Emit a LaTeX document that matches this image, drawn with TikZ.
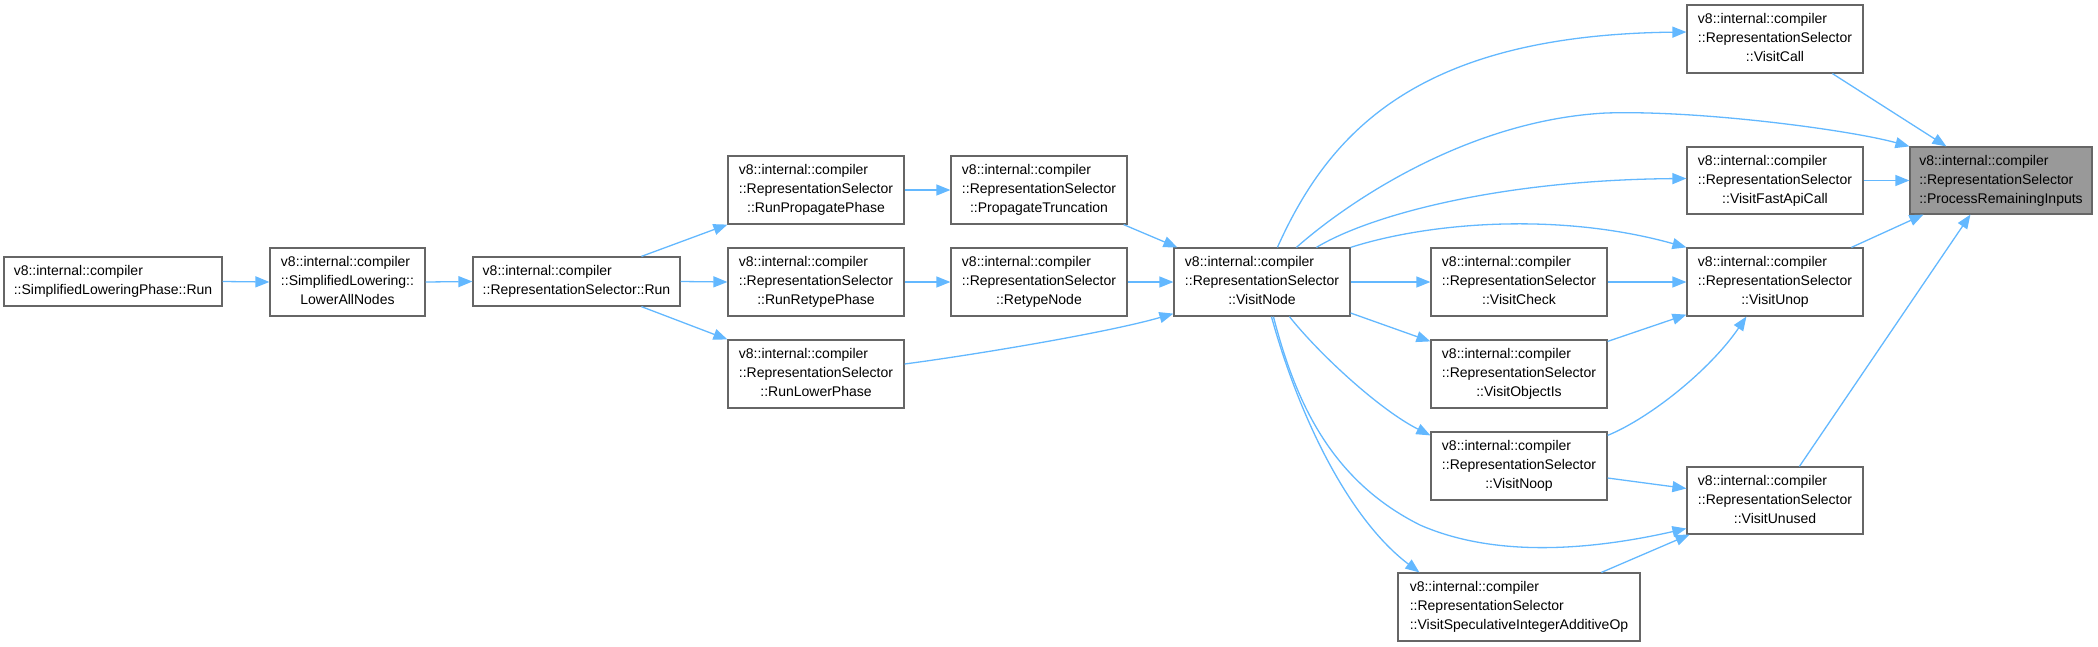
\documentclass[tikz,border=0pt]{standalone}
\usepackage{fontspec}
\setmainfont{Liberation Sans}
\usetikzlibrary{arrows.meta}
\definecolor{edgec}{HTML}{63B8FF}
\definecolor{boxc}{HTML}{666666}
\definecolor{hilite}{HTML}{999999}
\newcommand\lblthree[3]{\begin{tabular}{@{}l@{}}#1\\#2\\\multicolumn{1}{@{}c@{}}{#3}\end{tabular}}
\newcommand\lbltwo[2]{\begin{tabular}{@{}l@{}}#1\\#2\end{tabular}}
\newcommand\rsl[1]{\lblthree{v8::internal::compiler}{::RepresentationSelector}{#1}}
\tikzset{
  box/.style={draw=boxc, line width=1.2pt, fill=white, rectangle, inner sep=0pt,
    font=\fontsize{14pt}{19pt}\selectfont, text=black},
  wh/.style 2 args={minimum width=#1 pt, minimum height=#2 pt},
  edge/.style={draw=edgec, line width=1.3pt, -{Triangle[length=14pt,width=11pt]}},
}
\begin{document}
\begin{tikzpicture}[x=1pt,y=-1pt]
\useasboundingbox (0,0) rectangle (2098,646);
% nodes
\node[box, wh={218}{49}] (slp) at (113,281.5) {\lbltwo{v8::internal::compiler}{::SimplifiedLoweringPhase::Run}};
\node[box, wh={155}{68}] (lan) at (347.5,282) {\lblthree{v8::internal::compiler}{::SimplifiedLowering::}{LowerAllNodes}};
\node[box, wh={207}{49}] (rsr) at (576.5,281.5) {\lbltwo{v8::internal::compiler}{::RepresentationSelector::Run}};
\node[box, wh={176}{68}] (rpp) at (816,190) {\rsl{::RunPropagatePhase}};
\node[box, wh={176}{68}] (ptr) at (1039,190) {\rsl{::PropagateTruncation}};
\node[box, wh={176}{68}] (rrp) at (816,282) {\rsl{::RunRetypePhase}};
\node[box, wh={176}{68}] (rtn) at (1039,282) {\rsl{::RetypeNode}};
\node[box, wh={176}{68}] (rlp) at (816,374) {\rsl{::RunLowerPhase}};
\node[box, wh={176}{68}] (vnd) at (1262,282) {\rsl{::VisitNode}};
\node[box, wh={176}{68}] (vcl) at (1775,39) {\rsl{::VisitCall}};
\node[box, wh={182}{67}, fill=hilite] (pri) at (2001,180.5) {\rsl{::ProcessRemainingInputs}};
\node[box, wh={176}{67}] (vfa) at (1775,180.5) {\rsl{::VisitFastApiCall}};
\node[box, wh={176}{68}] (vck) at (1519,282) {\rsl{::VisitCheck}};
\node[box, wh={176}{68}] (vun) at (1775,282) {\rsl{::VisitUnop}};
\node[box, wh={176}{68}] (voi) at (1519,374) {\rsl{::VisitObjectIs}};
\node[box, wh={176}{68}] (vno) at (1519,466) {\rsl{::VisitNoop}};
\node[box, wh={176}{67}] (vus) at (1775,500.5) {\rsl{::VisitUnused}};
\node[box, wh={242}{68}] (vsi) at (1519,607) {\rsl{::VisitSpeculativeIntegerAdditiveOp}};
% edges
\draw[edge] (slp.east) -- (lan.west);
\draw[edge] (lan.east) -- (rsr.west);
\draw[edge] ([xshift=169pt]rsr.north west) -- (rpp.south west);
\draw[edge] (rsr.east) -- (rrp.west);
\draw[edge] ([xshift=169pt]rsr.south west) -- (rlp.north west);
\draw[edge] (rpp.east) -- (ptr.west);
\draw[edge] (rrp.east) -- (rtn.west);
\draw[edge] ([xshift=-4pt]ptr.south east) -- ([xshift=4pt]vnd.north west);
\draw[edge] (rtn.east) -- (vnd.west);
\draw[edge] ([yshift=10pt]rlp.east) .. controls (980,354) and (1110,332) .. ([yshift=3pt]vnd.south west);
% from VisitNode
\draw[edge] ([xshift=104pt]vnd.north west) .. controls (1330,130) and (1420,35) .. ([yshift=7pt]vcl.west);
\draw[edge] ([xshift=123pt]vnd.north west) .. controls (1350,200) and (1470,120) .. (1606,113) .. controls (1700,110) and (1850,130) .. (pri.north west);
\draw[edge] ([xshift=143pt]vnd.north west) .. controls (1370,215) and (1500,180) .. ([yshift=2pt]vfa.west);
\draw[edge] (vnd.north east) .. controls (1430,222) and (1560,212) .. (vun.north west);
\draw[edge] (vnd.east) -- (vck.west);
\draw[edge] ([yshift=-31pt]vnd.east) -- ([yshift=-2pt]voi.north west);
\draw[edge] ([xshift=116pt]vnd.south west) .. controls (1320,355) and (1380,410) .. ([yshift=-4pt]vno.north west);
\draw[edge] ([xshift=100pt]vnd.south west) .. controls (1295,400) and (1330,480) .. (1420,525) .. controls (1500,560) and (1600,548) .. ([yshift=-28pt]vus.west);
\draw[edge] ([xshift=98pt]vnd.south west) .. controls (1300,420) and (1350,520) .. ([xshift=22pt]vsi.north west);
% into ProcessRemainingInputs
\draw[edge] ([xshift=146pt]vcl.south west) -- ([xshift=37pt]pri.north west);
\draw[edge] (vfa.east) -- (pri.west);
\draw[edge] ([xshift=165pt]vun.north west) -- ([xshift=14pt]pri.south west);
\draw[edge] ([xshift=113pt]vus.north west) -- ([xshift=61pt]pri.south west);
% into VisitUnop / VisitUnused
\draw[edge] (vck.east) -- (vun.west);
\draw[edge] ([yshift=-2pt]voi.north east) -- ([yshift=2pt]vun.south west);
\draw[edge] ([yshift=-4pt]vno.north east) .. controls (1650,418) and (1710,370) .. ([xshift=60pt]vun.south west);
\draw[edge] ([yshift=-12pt]vno.east) -- ([yshift=12pt]vus.west);
\draw[edge] ([xshift=204pt]vsi.north west) -- ([xshift=3pt]vus.south west);
\end{tikzpicture}
\end{document}
